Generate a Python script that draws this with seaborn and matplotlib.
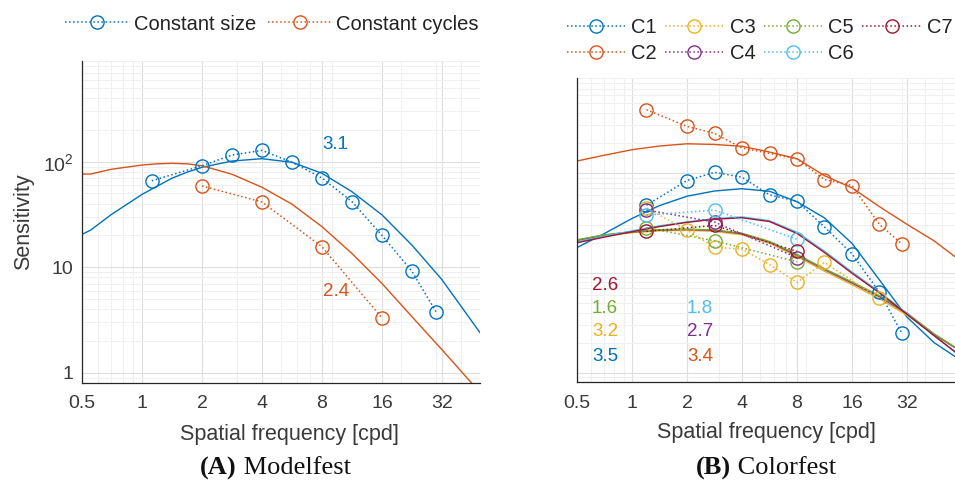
import numpy as np
import pandas as pd
import matplotlib
matplotlib.use("Agg")
import matplotlib.pyplot as plt
import matplotlib.ticker as mticker
from matplotlib.lines import Line2D
import seaborn as sns

# ---------------- data ----------------
# (A) Modelfest
mf_size_freq = [1.12, 2, 2.83, 4, 5.66, 8, 11.3, 16, 22.6, 30]
mf_size_sens = [66, 91.6, 115.7, 128, 98.7, 70, 41.8, 20, 9.15, 3.73]
mf_cyc_freq = [2, 4, 8, 16]
mf_cyc_sens = [58.9, 41.5, 15.6, 3.3]

mf_fit_freq = [0.5, 0.553, 0.7, 1, 1.19, 1.41, 1.68, 2, 2.83, 4, 5.66, 8, 11.3, 16, 22.6, 32, 49.6]
mf_size_fit = [20.5, 22.5, 31.5, 49, 58.5, 69.6, 79.5, 88.5, 101.5, 106.8, 98.7, 77.6, 52, 31.3, 16.2, 7.6, 2.4]
mf_cyc_fit = [76.4, 76.4, 84.7, 93, 95.5, 96.5, 95.5, 91.6, 76, 57.2, 39.5, 24.2, 13.5, 7.0, 3.4, 1.65, 0.65]

mf_labels = ["Constant size", "Constant cycles"]
mf_exponents = ["3.1", "2.4"]

# (B) Colorfest
cf_names = ["C1", "C2", "C3", "C4", "C5", "C6", "C7"]
cf_freq = {
    "C1": [1.2, 2, 2.83, 4, 5.66, 8, 11.3, 16, 22.6, 30],
    "C2": [1.2, 2, 2.83, 4, 5.66, 8, 11.3, 16, 22.6, 30],
    "C3": [1.2, 2, 2.83, 4, 5.66, 8, 11.3, 22.6],
    "C4": [1.2, 2.83, 8],
    "C5": [1.2, 2.83, 8],
    "C6": [1.2, 2.83, 8],
    "C7": [1.2, 2.83, 8],
}
cf_sens = {
    "C1": [47.5, 84, 101.6, 90.6, 60.3, 52.1, 28.8, 15.5, 6.37, 2.48],
    "C2": [430, 293, 249, 178, 157, 138, 85.9, 74.8, 30.5, 19.5],
    "C3": [44.5, 26.7, 18.0, 17.3, 12.1, 8.0, 12.7, 5.54],
    "C4": [42.6, 32.2, 14.2],
    "C5": [28.3, 20.9, 12.9],
    "C6": [37.8, 42.4, 21.7],
    "C7": [26.0, 29.8, 16.4],
}
cf_fit_freq = [0.5, 0.7, 1, 1.41, 2, 2.83, 4, 5.66, 8, 11.3, 16, 22.6, 32, 45, 58.6]
cf_fit = {
    "C1": [17.9, 24.5, 35, 47, 58.5, 66, 69.5, 65.5, 51.5, 35.5, 19.7, 8.5, 3.6, 2.0, 1.45],
    "C2": [131.8, 150, 171, 186, 196, 193, 185, 162, 139, 94, 71, 46, 30.6, 20.9, 14.5],
    "C3": [21.0, 23.5, 25.2, 26.3, 26.6, 26.0, 24.0, 19.8, 14.5, 10.4, 7.6, 5.5, 3.75, 2.4, 1.78],
    "C4": [21.2, 23.8, 25.6, 26.8, 27.1, 26.6, 24.6, 20.3, 15.0, 10.8, 7.9, 5.75, 3.9, 2.42, 1.78],
    "C5": [21.4, 24.0, 25.8, 27.0, 27.4, 26.9, 24.9, 20.6, 15.3, 11.0, 8.1, 5.9, 3.95, 2.45, 1.8],
    "C6": [20.4, 23.2, 26.3, 29.5, 32.4, 34.9, 36.3, 33.3, 25.5, 16.5, 10.2, 6.45, 3.9, 2.35, 1.6],
    "C7": [20.0, 22.7, 25.8, 29.0, 32.0, 34.4, 35.6, 32.6, 24.8, 16.0, 9.9, 6.3, 3.85, 2.35, 1.62],
}
cf_exponents = {"C7": "2.6", "C5": "1.6", "C3": "3.2", "C1": "3.5",
                "C6": "1.8", "C4": "2.7", "C2": "3.4"}

x_ticks = [0.5, 1, 2, 4, 8, 16, 32]
x_ticklabels = ["0.5", "1", "2", "4", "8", "16", "32"]
y_ticks = [1, 10, 100]
y_ticklabels = ["1", "10", "10$^2$"]

# ---------------- style ----------------
sns.set_theme(style="white")
plt.rcParams["font.family"] = ["Liberation Sans", "DejaVu Sans"]
plt.rcParams["mathtext.default"] = "regular"

colors = {"C1": "#0072BD", "C2": "#D95319", "C3": "#EDB120", "C4": "#7E2F8E",
          "C5": "#77AC30", "C6": "#4DBEEE", "C7": "#A2142F"}
AX_COL = "#262626"
TXT_COL = "#3a3a3a"

W, H = 955, 480
fig = plt.figure(figsize=(W / 100, H / 100), dpi=100)
axA = fig.add_axes([82 / W, (H - 383) / H, 398 / W, 322 / H])
axB = fig.add_axes([577 / W, (H - 382.3) / H, 378 / W, 304.6 / H])


def style_axes(ax, xmax, ylabels=True):
    ax.set_xscale("log")
    ax.set_yscale("log")
    ax.set_xlim(0.5, xmax)
    ax.set_ylim(0.8, 900)
    ax.xaxis.set_major_locator(mticker.FixedLocator(x_ticks))
    ax.xaxis.set_major_formatter(mticker.FixedFormatter(x_ticklabels))
    ax.xaxis.set_minor_locator(mticker.LogLocator(base=10, subs=np.arange(2, 10)))
    ax.xaxis.set_minor_formatter(mticker.NullFormatter())
    ax.yaxis.set_major_locator(mticker.FixedLocator(y_ticks))
    if ylabels:
        ax.yaxis.set_major_formatter(mticker.FixedFormatter(y_ticklabels))
    else:
        ax.yaxis.set_major_formatter(mticker.NullFormatter())
    ax.yaxis.set_minor_locator(mticker.LogLocator(base=10, subs=np.arange(2, 10)))
    ax.yaxis.set_minor_formatter(mticker.NullFormatter())
    ax.set_axisbelow(True)
    ax.grid(which="minor", color="#f0f0f0", lw=0.8)
    ax.grid(which="major", color="#dedede", lw=0.8)
    for s in ["top", "right"]:
        ax.spines[s].set_visible(False)
    for s in ["left", "bottom"]:
        ax.spines[s].set_color(AX_COL)
        ax.spines[s].set_linewidth(0.9)
    ax.tick_params(which="both", direction="in", color=AX_COL, width=0.7,
                   labelcolor=TXT_COL, labelsize=14)
    ax.tick_params(which="major", length=3.5)
    ax.tick_params(which="minor", length=2)
    ax.tick_params(axis="x", which="both", pad=9)
    ax.tick_params(axis="y", which="both", pad=6)


def data_line(ax, x, y, c):
    sns.lineplot(x=x, y=y, ax=ax, color=c, linestyle=":", lw=1.1, marker="o",
                 markersize=9.5, markerfacecolor="none", markeredgecolor=c,
                 markeredgewidth=1.0, legend=False)


def fit_line(ax, x, y, c):
    sns.lineplot(x=x, y=y, ax=ax, color=c, lw=1.0, legend=False)


# ---------------- (A) ----------------
style_axes(axA, 49.6, ylabels=True)
fit_line(axA, mf_fit_freq, mf_size_fit, colors["C1"])
fit_line(axA, mf_fit_freq, mf_cyc_fit, colors["C2"])
data_line(axA, mf_size_freq, mf_size_sens, colors["C1"])
data_line(axA, mf_cyc_freq, mf_cyc_sens, colors["C2"])
axA.set_xlim(0.5, 49.6)
axA.set_ylim(0.8, 900)

axA.text(0.636, 0.742, mf_exponents[0], transform=axA.transAxes, color=colors["C1"],
         fontsize=13.5, ha="center", va="center")
axA.text(0.638, 0.283, mf_exponents[1], transform=axA.transAxes, color=colors["C2"],
         fontsize=13.5, ha="center", va="center")

axA.set_xlabel("Spatial frequency [cpd]", fontsize=15.5, color=TXT_COL)
axA.xaxis.set_label_coords(0.521, -0.161)
axA.xaxis.label.set_va("center")
axA.set_ylabel("Sensitivity", fontsize=15.5, color=TXT_COL)
axA.yaxis.set_label_coords(-0.148, 0.5)
axA.yaxis.label.set_va("center")

def handle(c):
    return Line2D([], [], color=c, linestyle=":", lw=1.1, marker="o", markersize=9.5,
                  markerfacecolor="none", markeredgecolor=c, markeredgewidth=1.0)

legA = fig.legend([handle(colors["C1"]), handle(colors["C2"])], mf_labels, ncol=2,
                  loc="center", bbox_to_anchor=(272 / W, 1 - 24 / H), frameon=False,
                  fontsize=14.5, handlelength=3.2, handletextpad=0.2, columnspacing=0.6,
                  labelcolor="#222222")

# ---------------- (B) ----------------
style_axes(axB, 58.6, ylabels=False)
for n in cf_names:
    fit_line(axB, cf_fit_freq, cf_fit[n], colors[n])
for n in cf_names:
    data_line(axB, cf_freq[n], cf_sens[n], colors[n])
axB.set_xlim(0.5, 58.6)
axB.set_ylim(0.8, 900)

ann_pos = {"C7": (0.074, 0.319), "C5": (0.074, 0.243), "C3": (0.074, 0.166),
           "C1": (0.074, 0.086), "C6": (0.325, 0.243), "C4": (0.325, 0.166),
           "C2": (0.325, 0.086)}
for n, (px, py) in ann_pos.items():
    axB.text(px, py, cf_exponents[n], transform=axB.transAxes, color=colors[n],
             fontsize=13.5, ha="center", va="center")

axB.set_xlabel("Spatial frequency [cpd]", fontsize=15.5, color=TXT_COL)
axB.xaxis.set_label_coords(0.502, -0.166)
axB.xaxis.label.set_va("center")

legB = fig.legend([handle(colors[n]) for n in cf_names], cf_names, ncol=4,
                  loc="center", bbox_to_anchor=(759.5 / W, 1 - 40.5 / H), frameon=False,
                  fontsize=14.5, handlelength=2.9, handletextpad=0.3, columnspacing=0.42,
                  labelspacing=0.38, labelcolor="#222222")

# ---------------- captions ----------------
def caption(center_px, bold, normal):
    t1 = fig.text(0, 5.5 / H, bold, fontfamily="Liberation Serif", fontweight="bold",
                  fontsize=19, ha="left", va="baseline", color="#111111")
    t2 = fig.text(0, 5.5 / H, " " + normal, fontfamily="Liberation Serif",
                  fontsize=19, ha="left", va="baseline", color="#111111")
    fig.canvas.draw()
    r = fig.canvas.get_renderer()
    w1 = t1.get_window_extent(r).width
    w2 = t2.get_window_extent(r).width
    x0 = center_px - (w1 + w2) / 2
    t1.set_x(x0 / W)
    t2.set_x((x0 + w1) / W)

caption(275.5, "(A)", "Modelfest")
caption(766, "(B)", "Colorfest")

fig.savefig("out.png", dpi=100)
